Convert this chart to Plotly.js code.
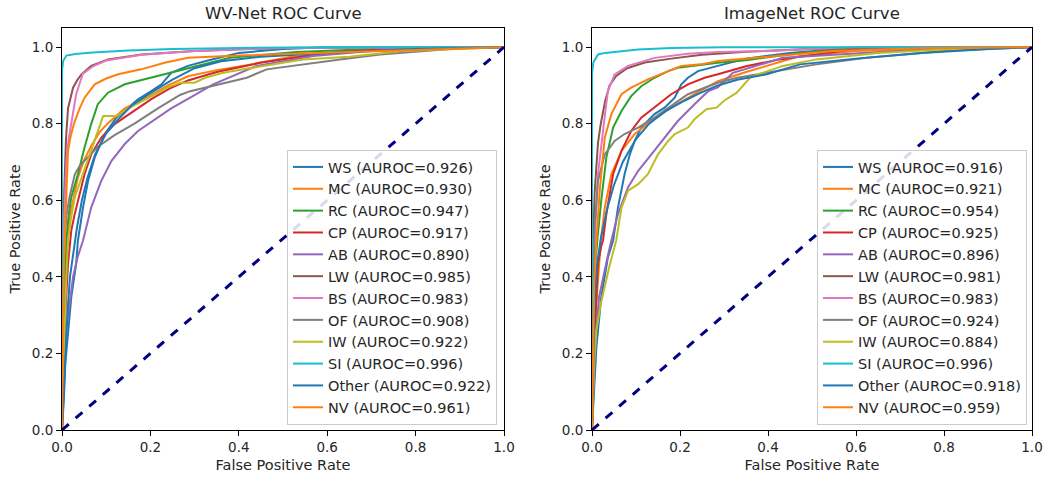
<!DOCTYPE html>
<html>
<head>
<meta charset="utf-8">
<script src="https://cdn.plot.ly/plotly-3.0.1.min.js"></script>
<style>html,body{margin:0;padding:0;background:#fff;}#chart{width:1045px;height:479px;}</style>
</head>
<body>
<div id="chart"></div>
<script>
// ---------- Data ----------
const categories = ['WS','MC','RC','CP','AB','LW','BS','OF','IW','SI','Other','NV'];
const aurocWV = [0.926,0.930,0.947,0.917,0.890,0.985,0.983,0.908,0.922,0.996,0.922,0.961];
const aurocIN = [0.916,0.921,0.954,0.925,0.896,0.981,0.983,0.924,0.884,0.996,0.918,0.959];
const axisTicks = [0,0.2,0.4,0.6,0.8,1.0];
const tickText = ['0.0','0.2','0.4','0.6','0.8','1.0'];
const diagX = [0,1];
const diagY = [0,1];

// WV-Net ROC curves
const wvWS_fpr = [0,0.002,0.0045,0.0075,0.0136,0.021,0.032,0.036,0.0475,0.059,0.074,0.097,0.123,0.149,0.172,0.202,0.225,0.247,0.285,0.33,0.4,0.5,0.6,1];
const wvWS_tpr = [0,0.03,0.087,0.174,0.26,0.347,0.434,0.495,0.581,0.651,0.712,0.773,0.816,0.842,0.864,0.885,0.903,0.933,0.951,0.965,0.985,0.995,1,1];
const wvMC_fpr = [0,0.002,0.005,0.009,0.0136,0.02,0.036,0.05,0.066,0.085,0.104,0.142,0.195,0.24,0.285,0.35,0.418,0.516,0.7,0.85,1];
const wvMC_tpr = [0,0.14,0.3,0.42,0.51,0.57,0.66,0.705,0.742,0.778,0.801,0.84,0.87,0.9,0.924,0.94,0.953,0.974,0.991,0.997,1];
const wvRC_fpr = [0,0.002,0.005,0.0097,0.015,0.021,0.036,0.051,0.066,0.081,0.104,0.142,0.187,0.24,0.285,0.38,0.53,0.7,0.85,1];
const wvRC_tpr = [0,0.15,0.35,0.495,0.56,0.608,0.668,0.738,0.799,0.851,0.881,0.903,0.916,0.933,0.946,0.972,0.987,0.995,0.999,1];
const wvCP_fpr = [0,0.002,0.004,0.0075,0.0136,0.021,0.028,0.036,0.051,0.066,0.089,0.119,0.157,0.202,0.247,0.285,0.35,0.448,0.6,0.78,1];
const wvCP_tpr = [0,0.1,0.174,0.305,0.434,0.521,0.56,0.599,0.668,0.72,0.764,0.799,0.829,0.864,0.894,0.913,0.935,0.959,0.985,0.998,1];
const wvAB_fpr = [0,0.002,0.0045,0.0097,0.017,0.025,0.035,0.0475,0.066,0.089,0.112,0.142,0.172,0.21,0.247,0.285,0.342,0.44,0.568,0.7,0.85,1];
const wvAB_tpr = [0,0.08,0.174,0.26,0.33,0.4,0.45,0.495,0.581,0.651,0.703,0.747,0.781,0.81,0.84,0.865,0.903,0.951,0.977,0.99,0.997,1];
const wvLW_fpr = [0,0.002,0.005,0.009,0.0136,0.02,0.025,0.035,0.044,0.066,0.104,0.18,0.3,0.5,1];
const wvLW_tpr = [0,0.4,0.62,0.76,0.84,0.875,0.894,0.915,0.929,0.951,0.968,0.981,0.99,0.998,1];
const wvBS_fpr = [0,0.002,0.005,0.0097,0.015,0.021,0.032,0.047,0.07,0.1,0.18,0.3,0.5,1];
const wvBS_tpr = [0,0.3,0.55,0.70,0.76,0.80,0.877,0.93,0.95,0.965,0.98,0.99,0.998,1];
const wvOF_fpr = [0,0.001,0.003,0.006,0.01,0.017,0.029,0.04,0.051,0.081,0.119,0.164,0.217,0.267,0.29,0.342,0.418,0.463,0.568,0.629,0.72,0.9,1];
const wvOF_tpr = [0,0.2,0.35,0.495,0.56,0.608,0.668,0.69,0.703,0.74,0.77,0.8,0.84,0.875,0.885,0.9,0.92,0.942,0.959,0.968,0.981,0.997,1];
const wvIW_fpr = [0,0.002,0.005,0.009,0.0136,0.02,0.029,0.045,0.06,0.075,0.082,0.093,0.124,0.15,0.2,0.24,0.267,0.3,0.324,0.364,0.455,0.545,0.65,0.77,1];
const wvIW_tpr = [0,0.1,0.25,0.38,0.495,0.55,0.608,0.66,0.71,0.76,0.781,0.82,0.82,0.84,0.87,0.895,0.907,0.907,0.92,0.933,0.951,0.968,0.975,0.99,1];
const wvSI_fpr = [0,0,0.003,0.01,0.03,0.07,0.15,0.25,0.4,0.6,1];
const wvSI_tpr = [0,0.94,0.965,0.978,0.982,0.986,0.991,0.995,0.998,1,1];
const wvOther_fpr = [0,0.002,0.004,0.008,0.012,0.018,0.026,0.034,0.045,0.058,0.075,0.1,0.13,0.16,0.2,0.25,0.3,0.36,0.45,0.6,0.8,1];
const wvOther_tpr = [0,0.05,0.12,0.2,0.3,0.4,0.47,0.53,0.6,0.66,0.72,0.775,0.815,0.85,0.88,0.915,0.945,0.963,0.975,0.985,0.995,1];
const wvNV_fpr = [0,0.002,0.004,0.006,0.01,0.0136,0.02,0.029,0.04,0.051,0.074,0.1,0.127,0.179,0.232,0.285,0.4,0.6,0.83,1];
const wvNV_tpr = [0,0.3,0.42,0.495,0.65,0.729,0.77,0.807,0.84,0.868,0.903,0.918,0.929,0.942,0.959,0.972,0.978,0.985,0.993,1];

// ImageNet ROC curves
const inWS_fpr = [0,0.002,0.005,0.01,0.021,0.036,0.048,0.059,0.074,0.086,0.097,0.112,0.142,0.165,0.188,0.203,0.218,0.241,0.286,0.35,0.45,0.61,1];
const inWS_tpr = [0,0.04,0.13,0.217,0.347,0.45,0.495,0.581,0.668,0.72,0.755,0.79,0.825,0.842,0.868,0.903,0.92,0.9375,0.951,0.97,0.985,1,1];
const inMC_fpr = [0,0.002,0.005,0.01,0.015,0.02,0.029,0.044,0.067,0.097,0.135,0.18,0.233,0.286,0.35,0.473,0.6,0.8,1];
const inMC_tpr = [0,0.1,0.2,0.33,0.42,0.495,0.581,0.668,0.729,0.773,0.807,0.842,0.877,0.911,0.935,0.977,0.99,0.997,1];
const inRC_fpr = [0,0.002,0.004,0.007,0.012,0.021,0.0326,0.048,0.067,0.089,0.112,0.142,0.173,0.195,0.286,0.35,0.473,0.6,1];
const inRC_tpr = [0,0.2,0.32,0.42,0.495,0.599,0.712,0.79,0.833,0.872,0.898,0.92,0.9375,0.946,0.959,0.966,0.985,0.998,1];
const inCP_fpr = [0,0.002,0.004,0.008,0.0136,0.021,0.025,0.0326,0.048,0.067,0.089,0.112,0.142,0.18,0.218,0.256,0.286,0.35,0.427,0.6,1];
const inCP_tpr = [0,0.1,0.22,0.3,0.434,0.48,0.495,0.564,0.668,0.729,0.781,0.816,0.842,0.877,0.903,0.92,0.929,0.95,0.968,0.995,1];
const inAB_fpr = [0,0.002,0.006,0.0098,0.016,0.025,0.035,0.044,0.059,0.082,0.105,0.135,0.165,0.195,0.233,0.264,0.286,0.32,0.434,0.56,0.8,1];
const inAB_tpr = [0,0.08,0.17,0.26,0.347,0.4,0.45,0.495,0.564,0.634,0.677,0.72,0.764,0.807,0.851,0.885,0.895,0.933,0.972,0.98,0.997,1];
const inLW_fpr = [0,0.001,0.003,0.006,0.01,0.0136,0.02,0.03,0.04,0.055,0.08,0.12,0.18,0.25,0.35,0.5,0.65,1];
const inLW_tpr = [0,0.3,0.5,0.62,0.7,0.75,0.8,0.86,0.9,0.925,0.945,0.96,0.97,0.98,0.988,0.995,1,1];
const inBS_fpr = [0,0.001,0.003,0.006,0.0136,0.025,0.036,0.0515,0.082,0.142,0.218,0.286,0.4,0.586,1];
const inBS_tpr = [0,0.25,0.4,0.495,0.668,0.781,0.885,0.929,0.951,0.972,0.983,0.987,0.99,1,1];
const inOF_fpr = [0,0.001,0.002,0.004,0.006,0.01,0.0136,0.029,0.0515,0.074,0.105,0.142,0.18,0.218,0.256,0.286,0.33,0.397,0.51,0.624,0.8,1];
const inOF_tpr = [0,0.15,0.3,0.45,0.53,0.6,0.651,0.72,0.755,0.773,0.79,0.816,0.846,0.877,0.894,0.907,0.92,0.933,0.955,0.972,0.99,1];
const inIW_fpr = [0,0.002,0.005,0.01,0.02,0.03,0.04,0.055,0.067,0.082,0.105,0.127,0.15,0.173,0.188,0.218,0.233,0.26,0.283,0.3,0.329,0.359,0.38,0.434,0.51,0.65,0.85,1];
const inIW_tpr = [0,0.08,0.18,0.26,0.33,0.38,0.43,0.495,0.581,0.625,0.642,0.668,0.72,0.755,0.773,0.79,0.812,0.838,0.842,0.86,0.881,0.92,0.93,0.951,0.968,0.985,0.997,1];
const inSI_fpr = [0,0,0.003,0.0136,0.03,0.105,0.18,0.3,0.5,1];
const inSI_tpr = [0,0.93,0.96,0.981,0.985,0.994,0.998,1,1,1];
const inOther_fpr = [0,0.002,0.005,0.01,0.02,0.035,0.05,0.07,0.1,0.13,0.17,0.21,0.245,0.286,0.33,0.397,0.473,0.6,0.75,0.9,1];
const inOther_tpr = [0,0.15,0.3,0.42,0.5,0.58,0.64,0.7,0.76,0.8,0.835,0.86,0.88,0.9,0.915,0.929,0.955,0.97,0.985,0.995,1];
const inNV_fpr = [0,0.002,0.005,0.01,0.0175,0.029,0.044,0.067,0.089,0.127,0.165,0.203,0.248,0.286,0.4,0.55,0.75,1];
const inNV_tpr = [0,0.2,0.38,0.495,0.625,0.764,0.825,0.877,0.894,0.916,0.933,0.951,0.955,0.964,0.975,0.99,0.997,1];

const wvCurves = [[wvWS_fpr,wvWS_tpr],[wvMC_fpr,wvMC_tpr],[wvRC_fpr,wvRC_tpr],[wvCP_fpr,wvCP_tpr],[wvAB_fpr,wvAB_tpr],[wvLW_fpr,wvLW_tpr],[wvBS_fpr,wvBS_tpr],[wvOF_fpr,wvOF_tpr],[wvIW_fpr,wvIW_tpr],[wvSI_fpr,wvSI_tpr],[wvOther_fpr,wvOther_tpr],[wvNV_fpr,wvNV_tpr]];
const inCurves = [[inWS_fpr,inWS_tpr],[inMC_fpr,inMC_tpr],[inRC_fpr,inRC_tpr],[inCP_fpr,inCP_tpr],[inAB_fpr,inAB_tpr],[inLW_fpr,inLW_tpr],[inBS_fpr,inBS_tpr],[inOF_fpr,inOF_tpr],[inIW_fpr,inIW_tpr],[inSI_fpr,inSI_tpr],[inOther_fpr,inOther_tpr],[inNV_fpr,inNV_tpr]];

// ---------- Style ----------
const palette = ['#1f77b4','#ff7f0e','#2ca02c','#d62728','#9467bd','#8c564b','#e377c2','#7f7f7f','#bcbd22','#17becf','#1f77b4','#ff7f0e'];
const FONT = 'DejaVu Sans, sans-serif';
const TXT = '#262626';

const traces = [];
function addPanel(curves, aurocs, xa, ya, legendName, tag) {
  curves.forEach((c, i) => {
    traces.push({
      type: 'scatter', mode: 'lines',
      x: c[0], y: c[1], xaxis: xa, yaxis: ya,
      name: categories[i] + ' (AUROC=' + aurocs[i].toFixed(3) + ')',
      legend: legendName, legendgroup: tag + i,
      line: {color: palette[i], width: 2},
      hoverinfo: 'skip'
    });
  });
  traces.push({
    type: 'scatter', mode: 'lines', x: diagX, y: diagY, xaxis: xa, yaxis: ya,
    line: {color: '#000080', width: 3, dash: 'dash'}, showlegend: false, hoverinfo: 'skip'
  });
}
addPanel(wvCurves, aurocWV, 'x', 'y', 'legend', 'wv');
addPanel(inCurves, aurocIN, 'x2', 'y2', 'legend2', 'in');

const W = 1045, H = 479;
const yDom = [(H - 430) / H, (H - 28) / H];
function xAxis(dom, anchor) {
  return {
    domain: dom, anchor: anchor, range: [0, 1], showgrid: false, zeroline: false,
    showline: true, linecolor: '#000', linewidth: 1, mirror: true,
    ticks: 'outside', ticklen: 5, tickwidth: 1, tickcolor: '#000',
    tickvals: axisTicks, ticktext: tickText, tickfont: {family: FONT, size: 13.5, color: TXT},
    title: {text: 'False Positive Rate', font: {family: FONT, size: 14.5, color: TXT}, standoff: 5}
  };
}
function yAxis(anchor) {
  return {
    domain: yDom, anchor: anchor, range: [0, 1.05], showgrid: false, zeroline: false,
    showline: true, linecolor: '#000', linewidth: 1, mirror: true,
    ticks: 'outside', ticklen: 5, tickwidth: 1, tickcolor: '#000',
    tickvals: axisTicks, ticktext: tickText, tickfont: {family: FONT, size: 13.5, color: TXT},
    title: {text: 'True Positive Rate', font: {family: FONT, size: 14.5, color: TXT}, standoff: 7}
  };
}
function legendCfg(rightPx) {
  return {
    x: rightPx / W, xanchor: 'right', y: (H - 425) / H, yanchor: 'bottom',
    xref: 'paper', yref: 'paper',
    bgcolor: 'rgba(255,255,255,0.85)', bordercolor: '#cccccc', borderwidth: 1,
    font: {family: FONT, size: 14.5, color: TXT}, tracegroupgap: 4, traceorder: 'normal', itemwidth: 30
  };
}

const layout = {
  width: W, height: H, margin: {l: 0, r: 0, t: 0, b: 0},
  paper_bgcolor: '#fff', plot_bgcolor: '#fff', font: {family: FONT},
  xaxis: xAxis([62 / W, 504 / W], 'y'),
  yaxis: yAxis('x'),
  xaxis2: xAxis([592 / W, 1032 / W], 'y2'),
  yaxis2: yAxis('x2'),
  legend: legendCfg(497),
  legend2: legendCfg(1027),
  annotations: [
    {text: 'WV-Net ROC Curve', x: 283 / W, y: 1 - 14 / H, xref: 'paper', yref: 'paper', showarrow: false, xanchor: 'center', yanchor: 'middle', font: {family: FONT, size: 16.5, color: TXT}},
    {text: 'ImageNet ROC Curve', x: 812 / W, y: 1 - 14 / H, xref: 'paper', yref: 'paper', showarrow: false, xanchor: 'center', yanchor: 'middle', font: {family: FONT, size: 16.5, color: TXT}}
  ],
  showlegend: true
};

Plotly.newPlot('chart', traces, layout, {staticPlot: true, displayModeBar: false});
</script>
</body>
</html>
